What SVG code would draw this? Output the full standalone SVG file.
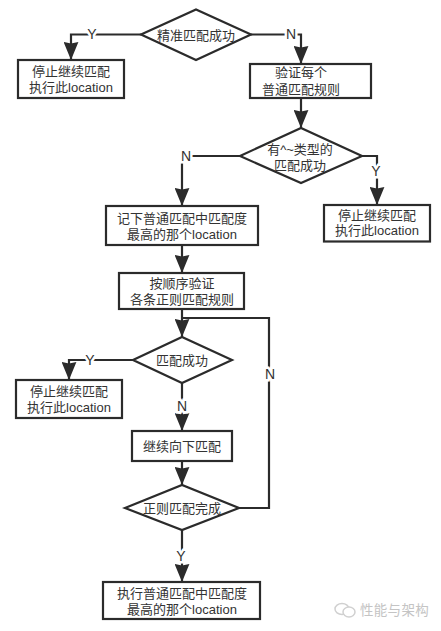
<svg xmlns="http://www.w3.org/2000/svg" width="441" height="631" viewBox="0 0 441 631">
<defs>
<marker id="arrow" markerUnits="userSpaceOnUse" markerWidth="18" markerHeight="15" refX="17" refY="7" orient="auto" viewBox="0 0 17 14"><path d="M17 7L0 0L1.500 7L0 14Z" fill="#2b2b2b"/></marker>
</defs>
<style>
.n{fill:#fff;stroke:#2b2b2b;stroke-width:2.200}
.c{fill:none;stroke:#2b2b2b;stroke-width:2.200}
.a{marker-end:url(#arrow)}
text{font-family:"Liberation Sans","Noto Sans CJK SC",sans-serif;font-size:13px;fill:#333;text-anchor:middle}
.l{font-size:14px;stroke:#fff;stroke-width:5px;paint-order:stroke}
.w{fill:#c4c4c4;font-size:13.500px;text-anchor:start;letter-spacing:.3px}
</style>
<rect width="441" height="631" fill="#fff"/>
<g id="connectors">
<path class="c a" d="M141 34.500H71V60"/>
<path class="c a" d="M251 34.500H301V64"/>
<path class="c a" d="M301 98V128"/>
<path class="c a" d="M240 156H182V206"/>
<path class="c a" d="M362 156H377V205"/>
<path class="c a" d="M182 245V273"/>
<path class="c a" d="M182 309V337"/>
<path class="c" d="M239 508H269V318H182"/>
<path class="c a" d="M133 360H69V380"/>
<path class="c a" d="M182 383V431"/>
<path class="c a" d="M182 461V485"/>
<path class="c a" d="M182 530V582"/>
<text class="l" x="92" y="39">Y</text>
<text class="l" x="291" y="39">N</text>
<text class="l" x="186" y="161">N</text>
<text class="l" x="376" y="176">Y</text>
<text class="l" x="270" y="379">N</text>
<text class="l" x="90" y="365">Y</text>
<text class="l" x="182" y="411">N</text>
<text class="l" x="181" y="561">Y</text>
</g>
<g id="n1"><path class="n" d="M141 34.500L196 9.500L251 34.500L196 60Z"/><text x="196" y="40">精准匹配成功</text></g>
<g id="n2"><rect class="n" x="18" y="60" width="106" height="38"/><text x="71" y="76">停止继续匹配</text><text x="71" y="92">执行此location</text></g>
<g id="n3"><rect class="n" x="250" y="64" width="121" height="34"/><text x="301" y="77">验证每个</text><text x="301" y="94">普通匹配规则</text></g>
<g id="n4"><path class="n" d="M240 156L301 128L362 156L301 183Z"/><text x="300" y="154">有^~类型的</text><text x="300" y="170">匹配成功</text></g>
<g id="n5"><rect class="n" x="324" y="205" width="106" height="36.500"/><text x="377" y="220">停止继续匹配</text><text x="377" y="235">执行此location</text></g>
<g id="n6"><rect class="n" x="106" y="206" width="152" height="39"/><text x="182" y="223">记下普通匹配中匹配度</text><text x="182" y="239">最高的那个location</text></g>
<g id="n7"><rect class="n" x="119" y="273" width="125" height="36"/><text x="182" y="288">按顺序验证</text><text x="182" y="304">各条正则匹配规则</text></g>
<g id="n8"><path class="n" d="M133 360L182 337L232 360L182 383Z"/><text x="182" y="365">匹配成功</text></g>
<g id="n9"><rect class="n" x="16" y="380" width="106" height="38"/><text x="69" y="396">停止继续匹配</text><text x="69" y="412">执行此location</text></g>
<g id="n10"><rect class="n" x="132" y="431" width="100" height="30"/><text x="182" y="451">继续向下匹配</text></g>
<g id="n11"><path class="n" d="M125 508L182 485L239 508L182 530Z"/><text x="182" y="513">正则匹配完成</text></g>
<g id="n12"><rect class="n" x="103" y="582" width="157" height="37"/><text x="182" y="598">执行普通匹配中匹配度</text><text x="182" y="614">最高的那个location</text></g>
<g id="watermark"><ellipse cx="342" cy="609" rx="7" ry="5.500" fill="none" stroke="#d0d0d0" stroke-width="1.500"/><ellipse cx="349" cy="612" rx="6" ry="5" fill="#fff" stroke="#d0d0d0" stroke-width="1.500"/><text class="w" x="360" y="615">性能与架构</text></g>
</svg>
